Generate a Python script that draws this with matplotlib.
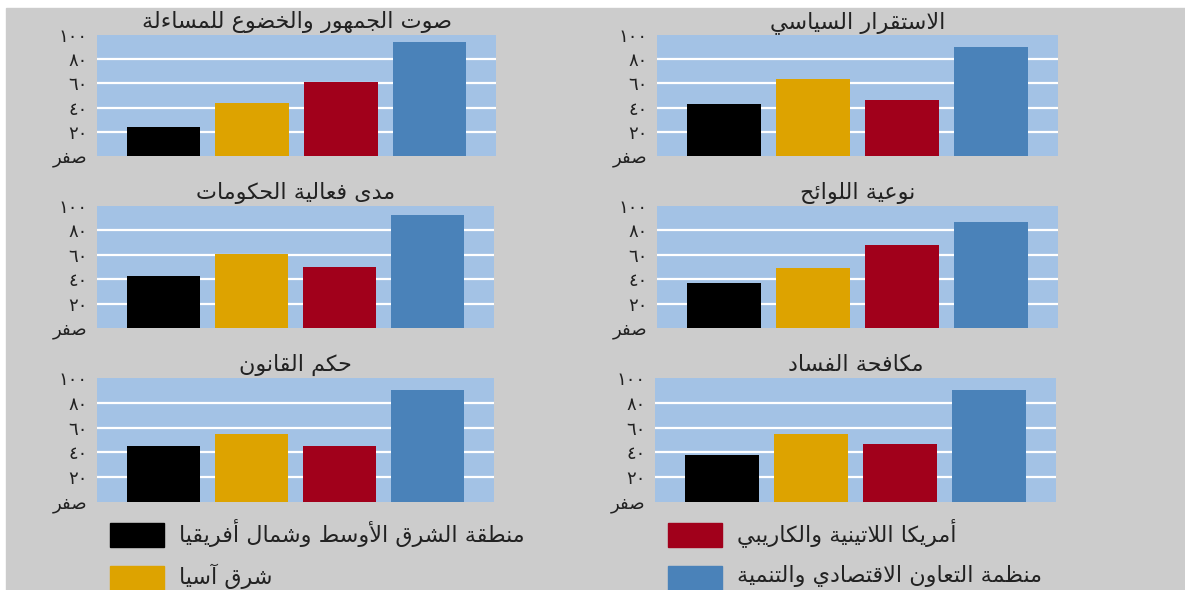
import matplotlib
matplotlib.use("Agg")
import matplotlib.pyplot as plt
from matplotlib.patches import Rectangle

# Arabic letters -> (isolated presentation form, joining type: 0 none, 1 right, 2 dual)
FORMS = {
    'ء': (0xFE80, 0), 'آ': (0xFE81, 1), 'أ': (0xFE83, 1), 'ؤ': (0xFE85, 1),
    'إ': (0xFE87, 1), 'ئ': (0xFE89, 2), 'ا': (0xFE8D, 1), 'ب': (0xFE8F, 2),
    'ة': (0xFE93, 1), 'ت': (0xFE95, 2), 'ث': (0xFE99, 2), 'ج': (0xFE9D, 2),
    'ح': (0xFEA1, 2), 'خ': (0xFEA5, 2), 'د': (0xFEA9, 1), 'ذ': (0xFEAB, 1),
    'ر': (0xFEAD, 1), 'ز': (0xFEAF, 1), 'س': (0xFEB1, 2), 'ش': (0xFEB5, 2),
    'ص': (0xFEB9, 2), 'ض': (0xFEBD, 2), 'ط': (0xFEC1, 2), 'ظ': (0xFEC5, 2),
    'ع': (0xFEC9, 2), 'غ': (0xFECD, 2), 'ف': (0xFED1, 2), 'ق': (0xFED5, 2),
    'ك': (0xFED9, 2), 'ل': (0xFEDD, 2), 'م': (0xFEE1, 2), 'ن': (0xFEE5, 2),
    'ه': (0xFEE9, 2), 'و': (0xFEED, 1), 'ى': (0xFEEF, 1), 'ي': (0xFEF1, 2),
}
LAMALEF = {'آ': 0xFEF5, 'أ': 0xFEF7, 'إ': 0xFEF9, 'ا': 0xFEFB}


def shape(text):
    # matplotlib has no Arabic shaping: pick contextual forms, then reverse
    out = []
    i = 0
    n = len(text)
    while i < n:
        c = text[i]
        if c not in FORMS:
            out.append(c)
            i += 1
            continue
        prev = text[i - 1] if i > 0 else ''
        join_prev = prev in FORMS and FORMS[prev][1] == 2
        if c == 'ل' and i + 1 < n and text[i + 1] in LAMALEF:
            out.append(chr(LAMALEF[text[i + 1]] + (1 if join_prev else 0)))
            i += 2
            continue
        nxt = text[i + 1] if i + 1 < n else ''
        join_next = FORMS[c][1] == 2 and nxt in FORMS and FORMS[nxt][1] > 0
        base = FORMS[c][0]
        if join_prev and join_next:
            out.append(chr(base + 3))
        elif join_prev:
            out.append(chr(base + 1))
        elif join_next:
            out.append(chr(base + 2))
        else:
            out.append(chr(base))
        i += 1
    return ''.join(reversed(out))


regions = ['منطقة الشرق الأوسط وشمال أفريقيا', 'شرق آسيا',
           'أمريكا اللاتينية والكاريبي', 'منظمة التعاون الاقتصادي والتنمية']
colors = ['#000000', '#dda300', '#a1001b', '#4a82b9']

titles = ['صوت الجمهور والخضوع للمساءلة', 'الاستقرار السياسي',
          'مدى فعالية الحكومات', 'نوعية اللوائح',
          'حكم القانون', 'مكافحة الفساد']

voice = [24, 44, 61, 94]
stability = [43, 64, 46, 90]
effectiveness = [43, 61, 50, 93]
regulatory = [37, 49, 68, 87]
rule_of_law = [45, 55, 45, 90]
corruption = [38, 55, 47, 90]
panels = [voice, stability, effectiveness, regulatory, rule_of_law, corruption]

yticks = [0, 20, 40, 60, 80, 100]
ylabels = [shape('صفر'), '٢٠', '٤٠', '٦٠', '٨٠', '١٠٠']

W, H = 1185, 590
fig = plt.figure(figsize=(W / 100, H / 100), dpi=100)
fig.patch.set_facecolor('white')
fig.add_artist(Rectangle((6 / W, 0), 1 - 6 / W, 1 - 8 / H,
                         transform=fig.transFigure, color='#cccccc', zorder=0))

# axes boxes in pixels: (left, right, top(100), bottom(0))
boxes = [(97, 496, 35, 156), (657, 1058, 35, 156),
         (97, 494, 206, 328), (657, 1058, 206, 328),
         (97, 494, 378, 502), (655, 1056, 378, 502)]

for k, vals in enumerate(panels):
    l, r, t, b = boxes[k]
    ax = fig.add_axes([l / W, 1 - b / H, (r - l) / W, (b - t) / H])
    ax.set_facecolor('#a3c2e5')
    ax.bar(range(4), vals, width=0.83, color=colors, zorder=3)
    for g in [20, 40, 60, 80]:
        ax.axhline(g, color='white', lw=1.6, zorder=2)
    ax.set_xlim(-0.75, 3.75)
    ax.set_ylim(0, 100)
    ax.set_xticks([])
    ax.set_yticks(yticks)
    ax.set_yticklabels(ylabels, fontsize=13, color='#222222')
    ax.tick_params(axis='y', length=0, pad=7)
    for s in ax.spines.values():
        s.set_visible(False)
    ax.set_title(shape(titles[k]), fontsize=16, color='#222222', pad=5)

# legend
leg_pos = [(110, 533), (110, 576), (668, 533), (668, 576)]
for k, name in enumerate(regions):
    x, y = leg_pos[k]
    fig.add_artist(Rectangle((x / W, 1 - (y + 14) / H), 54 / W, 24 / H,
                             transform=fig.transFigure, color=colors[k]))
    fig.text((x + 69) / W, 1 - y / H, shape(name), fontsize=16,
             color='#222222', ha='left', va='center')

fig.savefig('out.png', dpi=100, facecolor=fig.get_facecolor())
